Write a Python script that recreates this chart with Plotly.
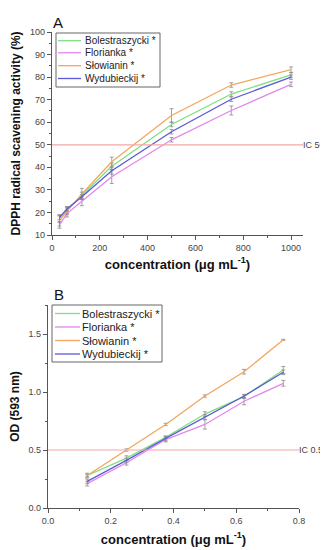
import plotly.graph_objects as go

# ---------------- data ----------------
names = ["Bolestraszycki *", "Florianka *", "Słowianin *", "Wydubieckij *"]
colors = ["#7EE07E", "#E387EC", "#F2A65E", "#5A5AD6"]

conc_a = [31.25, 62.5, 125, 250, 500, 750, 1000]
dpph_bol = [17.0, 21.0, 27.5, 40.5, 59.0, 72.5, 81.0]
dpph_flo = [14.5, 19.5, 25.0, 35.8, 52.2, 65.2, 76.8]
dpph_slo = [16.5, 20.5, 28.2, 42.5, 63.0, 76.5, 83.3]
dpph_wyd = [17.8, 21.5, 27.0, 38.5, 55.8, 70.2, 80.0]
dpph_err_bol = [1.5, 1.5, 1.5, 1.5, 1.0, 1.0, 1.0]
dpph_err_flo = [1.5, 1.5, 2.0, 3.0, 1.0, 2.0, 1.0]
dpph_err_slo = [2.5, 1.5, 2.5, 2.0, 3.0, 1.0, 1.2]
dpph_err_wyd = [1.0, 1.0, 1.0, 1.5, 1.0, 1.0, 1.0]

conc_b = [0.125, 0.25, 0.375, 0.5, 0.625, 0.75]
od_bol = [0.28, 0.43, 0.61, 0.81, 0.96, 1.19]
od_flo = [0.21, 0.39, 0.59, 0.72, 0.92, 1.075]
od_slo = [0.28, 0.50, 0.72, 0.965, 1.175, 1.45]
od_wyd = [0.23, 0.41, 0.60, 0.785, 0.965, 1.17]
od_err_bol = [0.02, 0.02, 0.01, 0.02, 0.015, 0.03]
od_err_flo = [0.02, 0.02, 0.02, 0.04, 0.03, 0.025]
od_err_slo = [0.01, 0.01, 0.01, 0.01, 0.02, 0.005]
od_err_wyd = [0.02, 0.02, 0.02, 0.02, 0.015, 0.02]

ic_a = 50
ic_b = 0.5
ic_a_label = "IC 50"
ic_b_label = "IC 0.5"

series_a = [dpph_bol, dpph_flo, dpph_slo, dpph_wyd]
errs_a = [dpph_err_bol, dpph_err_flo, dpph_err_slo, dpph_err_wyd]
series_b = [od_bol, od_flo, od_slo, od_wyd]
errs_b = [od_err_bol, od_err_flo, od_err_slo, od_err_wyd]

W, H = 328, 550
OFF = 8  # page body margin offsets the figure by 8 px
def px_x(p):
    return (p - OFF) / W
def px_y(p):
    return 1 - (p - OFF) / H

FONT = "Arial, Liberation Sans, sans-serif"
fig = go.Figure()
ERR = "#8a8a8a"
for n, c, ys, es in zip(names, colors, series_a, errs_a):
    fig.add_trace(go.Scatter(
        x=conc_a, y=ys, mode="lines", name=n, line=dict(color=c, width=1.3),
        error_y=dict(type="data", array=es, color=ERR, thickness=0.8, width=2),
        xaxis="x", yaxis="y", showlegend=False))
for n, c, ys, es in zip(names, colors, series_b, errs_b):
    fig.add_trace(go.Scatter(
        x=conc_b, y=ys, mode="lines", name=n, line=dict(color=c, width=1.3),
        error_y=dict(type="data", array=es, color=ERR, thickness=0.8, width=2),
        xaxis="x2", yaxis="y2", showlegend=False))

AX = "#555555"
TICKF = dict(family=FONT, size=9, color="#444444")
TITLEF = dict(family=FONT, size=13, color="#111111")

def axis_common():
    return dict(showline=True, linecolor=AX, linewidth=1.2, mirror=False,
                showgrid=False, zeroline=False, ticks="outside", ticklen=4,
                tickcolor=AX, tickwidth=1, tickfont=TICKF, automargin=False)

fig.update_layout(
    width=W, height=H, margin=dict(l=0, r=0, t=0, b=0),
    paper_bgcolor="white", plot_bgcolor="white",
    font=dict(family=FONT),
    showlegend=False,
    xaxis=dict(**axis_common(), domain=[px_x(52), px_x(303)], range=[0, 1050],
               dtick=200, anchor="y",
               minor=dict(dtick=100, ticks="outside", ticklen=2, tickcolor=AX),
               title=dict(text="<b>concentration (μg mL<sup>-1</sup>)</b>", font=TITLEF, standoff=7)),
    yaxis=dict(**axis_common(), domain=[px_y(235), px_y(32)], range=[10, 100],
               dtick=10, anchor="x",
               minor=dict(dtick=5, ticks="outside", ticklen=2, tickcolor=AX),
               title=dict(text="<b>DPPH radical scavening activity (%)</b>", font=dict(TITLEF, size=12), standoff=6)),
    xaxis2=dict(**axis_common(), domain=[px_x(48), px_x(299)], range=[0, 0.8],
                dtick=0.2, tickformat=".1f", anchor="y2",
                minor=dict(dtick=0.1, ticks="outside", ticklen=2, tickcolor=AX),
                title=dict(text="<b>concentration (μg mL<sup>-1</sup>)</b>", font=TITLEF, standoff=9)),
    yaxis2=dict(**axis_common(), domain=[px_y(508), px_y(305)], range=[0, 1.75],
                dtick=0.5, tickformat=".1f", anchor="x2",
                minor=dict(dtick=0.25, ticks="outside", ticklen=2, tickcolor=AX),
                title=dict(text="<b>OD (593 nm)</b>", font=dict(TITLEF, size=12), standoff=14)),
)

LINEC = "#F4A7A7"
fig.add_shape(type="line", xref="x domain", yref="y", x0=0, x1=1, y0=ic_a, y1=ic_a,
              line=dict(color=LINEC, width=1.2))
fig.add_shape(type="line", xref="x2 domain", yref="y2", x0=0, x1=1, y0=ic_b, y1=ic_b,
              line=dict(color=LINEC, width=1.2))
fig.add_annotation(xref="x domain", yref="y", x=1, y=ic_a, text=ic_a_label, showarrow=False,
                   xanchor="left", font=dict(family=FONT, size=9, color="#444444"),
                   borderpad=0, xshift=-1)
fig.add_annotation(xref="x2 domain", yref="y2", x=1, y=ic_b, text=ic_b_label, showarrow=False,
                   xanchor="left", font=dict(family=FONT, size=9, color="#444444"),
                   borderpad=0, xshift=-1)
fig.add_annotation(xref="paper", yref="paper", x=px_x(51), y=px_y(22), text="A",
                   showarrow=False, xanchor="left", yanchor="middle",
                   font=dict(family=FONT, size=15, color="#111111"))
fig.add_annotation(xref="paper", yref="paper", x=px_x(52), y=px_y(294), text="B",
                   showarrow=False, xanchor="left", yanchor="middle",
                   font=dict(family=FONT, size=15, color="#111111"))

# ---------------- legends (boxes with line samples and labels) ----------------
def draw_legend(box, line_x, text_x, ys_px, fsize):
    x0, y0, x1, y1 = box
    fig.add_shape(type="rect", xref="paper", yref="paper",
                  x0=px_x(x0), x1=px_x(x1), y0=px_y(y1), y1=px_y(y0),
                  line=dict(color="#666666", width=1), fillcolor="white", layer="above")
    for n, c, yp in zip(names, colors, ys_px):
        fig.add_shape(type="line", xref="paper", yref="paper",
                      x0=px_x(line_x[0]), x1=px_x(line_x[1]), y0=px_y(yp), y1=px_y(yp),
                      line=dict(color=c, width=1.3), layer="above")
        fig.add_annotation(xref="paper", yref="paper", x=px_x(text_x), y=px_y(yp),
                           text=n, showarrow=False, xanchor="left", yanchor="middle",
                           borderpad=0, font=dict(family=FONT, size=fsize, color="#222222"))

draw_legend((56, 33, 160, 87), (58, 81), 84, [40.7, 52.8, 65.7, 78.5], 10)
draw_legend((52, 305, 162, 362), (55, 80), 81, [313.5, 327, 340.5, 354], 11)

fig.write_html("out.html")
